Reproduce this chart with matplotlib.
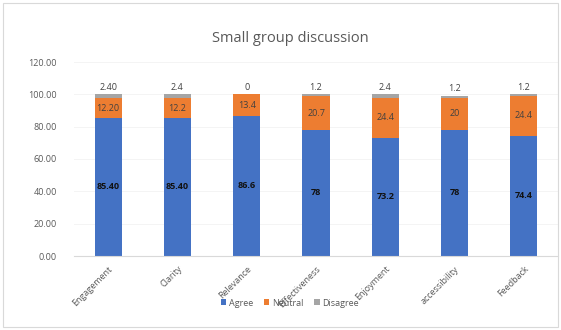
import matplotlib
matplotlib.use("Agg")
import matplotlib.pyplot as plt
import numpy as np

categories = ["Engagement", "Clarity", "Relevance", "Effectiveness", "Enjoyment", "accessibility", "Feedback"]
agree = [85.40, 85.40, 86.6, 78, 73.2, 78, 74.4]
neutral = [12.20, 12.2, 13.4, 20.7, 24.4, 20, 24.4]
disagree = [2.40, 2.4, 0, 1.2, 2.4, 1.2, 1.2]
agree_lbl = ["85.40", "85.40", "86.6", "78", "73.2", "78", "74.4"]
neutral_lbl = ["12.20", "12.2", "13.4", "20.7", "24.4", "20", "24.4"]
disagree_lbl = ["2.40", "2.4", "0", "1.2", "2.4", "1.2", "1.2"]
yticks = [0, 20, 40, 60, 80, 100, 120]

plt.rcParams['font.family'] = ['Open Sans', 'DejaVu Sans']
W, H = 561, 330
fig = plt.figure(figsize=(W/100, H/100), dpi=100)
ax = fig.add_axes([73.5/W, 1-256/H, (558.5-73.5)/W, (256-62)/H])

x = np.arange(len(categories))
bw = 0.39
c_ag, c_ne, c_di = "#4472C4", "#ED7D31", "#A5A5A5"
b1 = ax.bar(x, agree, bw, color=c_ag, label="Agree")
b2 = ax.bar(x, neutral, bw, bottom=agree, color=c_ne, label="Neutral")
bot2 = [a + n for a, n in zip(agree, neutral)]
b3 = ax.bar(x, disagree, bw, bottom=bot2, color=c_di, label="Disagree")

for i in range(len(x)):
    ax.text(x[i], agree[i]/2, agree_lbl[i], ha="center", va="center", fontsize=6.5,
            fontweight="bold", color="#111111")
    ax.text(x[i], agree[i] + neutral[i]/2, neutral_lbl[i], ha="center", va="center",
            fontsize=6.5, color="#404040")
    ax.text(x[i], bot2[i] + disagree[i] + 1.5, disagree_lbl[i], ha="center", va="bottom",
            fontsize=6.5, color="#404040")

ax.set_ylim(0, 120)
ax.set_xlim(-0.5, len(x) - 0.5)
ax.set_yticks(yticks)
ax.set_yticklabels([f"{v:.2f}" for v in yticks], fontsize=6.5, color="#595959")
ax.set_xticks(x)
ax.set_xticklabels(categories, rotation=45, ha="right", rotation_mode="anchor",
                   fontsize=6.5, color="#595959")
ax.tick_params(length=0)
ax.tick_params(axis="y", pad=12)
ax.tick_params(axis="x", pad=6)
for s in ["top", "right", "left"]:
    ax.spines[s].set_visible(False)
ax.spines["bottom"].set_color("#D9D9D9")
ax.set_axisbelow(True)
ax.grid(axis="y", color="#F2F2F2", linewidth=0.6)

fig.text(290/W, 1-38/H, "Small group discussion", ha="center", va="center",
         fontsize=10.5, color="#595959")

fig.legend(handles=[b1, b2, b3], labels=["Agree", "Neutral", "Disagree"],
           loc="center", bbox_to_anchor=(290/W, 1-303/H), ncol=3, frameon=False,
           fontsize=6.5, handlelength=0.6, handleheight=0.6, columnspacing=1.2,
           handletextpad=0.3, labelcolor="#595959")

border = plt.Rectangle((3/W, 3/H), 1-6/W, 1-6/H, transform=fig.transFigure,
                       fill=False, edgecolor="#D9D9D9", linewidth=0.8)
fig.patches.append(border)

fig.savefig("out.png", dpi=100)
